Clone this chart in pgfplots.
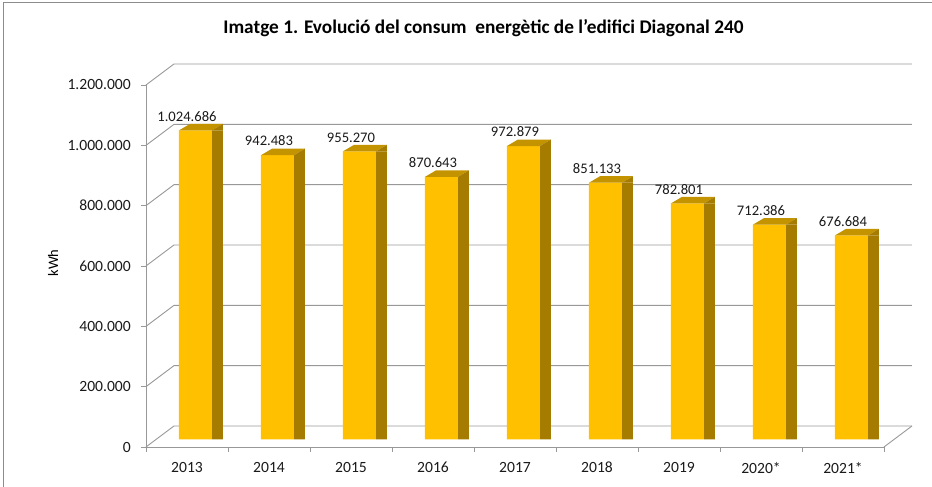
\documentclass[border=0pt]{standalone}
\usepackage{pgfplots}
\pgfplotsset{compat=1.18}
\usepackage{fontspec}
\setmainfont{Carlito}
\definecolor{barfront}{HTML}{FFC000}
\definecolor{barside}{HTML}{A67C00}
\definecolor{bartop}{HTML}{C49400}
\definecolor{gridc}{HTML}{989898}
\definecolor{framec}{HTML}{8C8C8C}
\definecolor{txt}{HTML}{1A1A1A}

% top face of a 3D bar (drawn at the bar's data point; front top centre is offset by 8.5pt,7.5pt)
\pgfdeclareplotmark{bartopface}{%
  \pgfsetfillcolor{bartop}%
  \pgfpathmoveto{\pgfqpoint{-8pt}{7.5pt}}%
  \pgfpathlineto{\pgfqpoint{25pt}{7.5pt}}%
  \pgfpathlineto{\pgfqpoint{36pt}{14pt}}%
  \pgfpathlineto{\pgfqpoint{3pt}{14pt}}%
  \pgfpathclose\pgfusepath{fill}%
  \pgfsetfillcolor{barside}%
  \pgfpathmoveto{\pgfqpoint{25pt}{7.5pt}}%
  \pgfpathlineto{\pgfqpoint{36pt}{14pt}}%
  \pgfpathlineto{\pgfqpoint{36pt}{7.5pt}}%
  \pgfpathclose\pgfusepath{fill}%
}

\begin{document}
\begin{tikzpicture}
\useasboundingbox (-146pt,-40pt) rectangle (786pt,447pt);
\draw[framec, line width=1pt] (-142pt,-41pt) -- (-142pt,444pt) -- (787pt,444pt);
\node[font=\fontsize{19.3}{22}\selectfont\bfseries, text=black] at (337.5pt,419pt)
  {Imatge 1. Evolució del consum\ \ energètic de l'edifici Diagonal 240};
\node[rotate=90, font=\fontsize{14.5}{17}\selectfont, text=black] at (-93pt,184pt) {kWh};
\begin{axis}[
  at={(0pt,0pt)}, anchor=south west,
  scale only axis, width=738pt, height=362pt,
  xmin=-0.5, xmax=8.5, ymin=0, ymax=1200000,
  axis x line*=bottom, axis y line*=left,
  axis line style={gridc, line width=0.9pt},
  tick style={gridc, line width=0.9pt},
  tick align=outside, major tick length=5pt,
  xtick={-0.5,0.5,1.5,2.5,3.5,4.5,5.5,6.5,7.5,8.5}, xticklabels={},
  extra x ticks={0,1,2,3,4,5,6,7,8},
  extra x tick labels={2013,2014,2015,2016,2017,2018,2019,2020*,2021*},
  extra x tick style={major tick length=0pt, xticklabel style={anchor=north, inner sep=0pt, yshift=-15pt, xshift=0pt}},
  ytick={0,200000,400000,600000,800000,1000000,1200000},
  yticklabels={0,200.000,400.000,600.000,800.000,1.000.000,1.200.000},
  yticklabel style={anchor=east, inner sep=0pt, xshift=-10pt},
  ticklabel style={font=\fontsize{15.6}{18}\selectfont, text=txt},
  scaled y ticks=false,
  clip=false,
]
% back wall grid, floor and the slanted connectors
\pgfplotsinvokeforeach{0,200000,400000,600000,800000,1000000,1200000}{
  \draw[gridc, line width=0.9pt] (axis cs:-0.5,#1) -- ++(28pt,21pt) -- ([shift={(28pt,21pt)}]axis cs:8.5,#1);
}
\draw[gridc, line width=0.9pt] (axis cs:8.5,0) -- ++(28pt,21pt);
% side faces
\addplot[ybar, bar width=11pt, bar shift=30.5pt, yshift=7.5pt, fill=barside, draw=none]
  coordinates {(0,1024686) (1,942483) (2,955270) (3,870643) (4,972879) (5,851133) (6,782801) (7,712386) (8,676684)};
% front faces
\addplot[ybar, bar width=33pt, bar shift=8.5pt, yshift=7.5pt, fill=barfront, draw=none,
  point meta=explicit symbolic, nodes near coords,
  every node near coord/.append style={anchor=south, inner sep=0pt, yshift=9pt, text=txt, font=\fontsize{14.6}{17}\selectfont}]
  coordinates {(0,1024686) [1.024.686] (1,942483) [942.483] (2,955270) [955.270] (3,870643) [870.643] (4,972879) [972.879] (5,851133) [851.133] (6,782801) [782.801] (7,712386) [712.386] (8,676684) [676.684]};
% top faces
\addplot[only marks, mark=bartopface]
  coordinates {(0,1024686) (1,942483) (2,955270) (3,870643) (4,972879) (5,851133) (6,782801) (7,712386) (8,676684)};
\end{axis}
\end{tikzpicture}
\end{document}
